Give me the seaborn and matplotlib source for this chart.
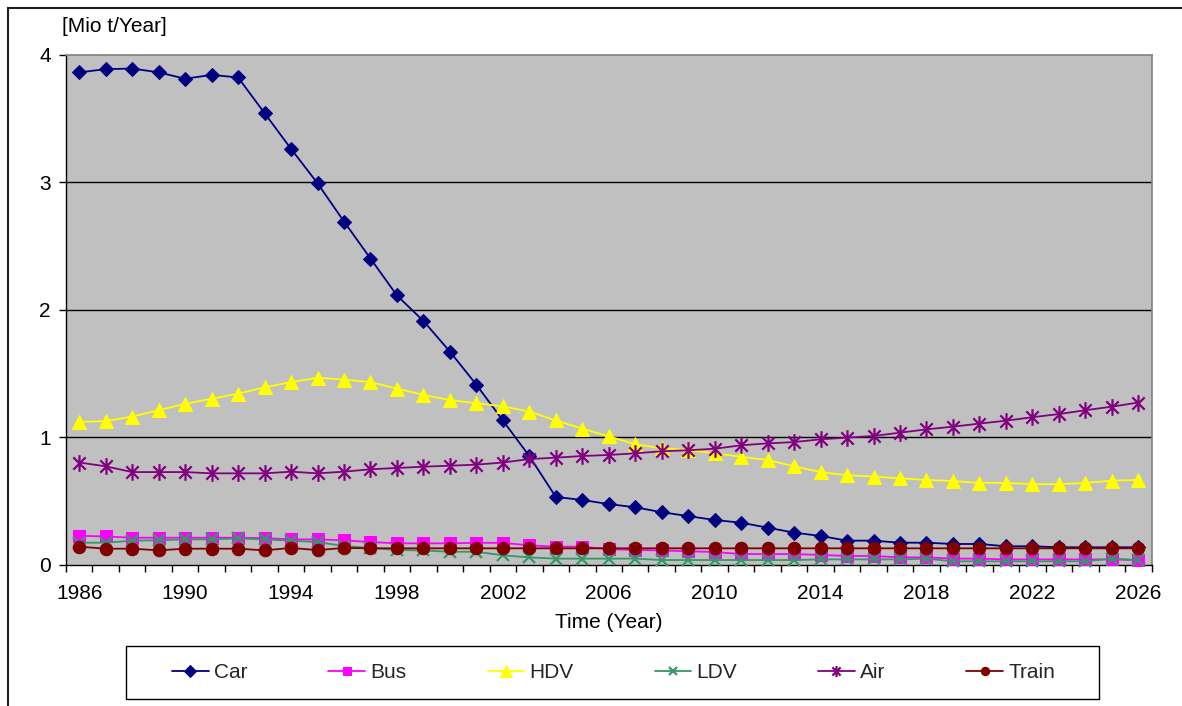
import numpy as np
import pandas as pd
import matplotlib
matplotlib.use("Agg")
import matplotlib.pyplot as plt
from matplotlib.path import Path
from matplotlib.patches import Rectangle
from matplotlib.ticker import FixedLocator
import seaborn as sns

# ---- data -------------------------------------------------------------
years = list(range(1986, 2027))

car = [3.86, 3.885, 3.89, 3.86, 3.81, 3.84, 3.82, 3.54, 3.26, 2.99, 2.69,
       2.40, 2.11, 1.91, 1.67, 1.41, 1.13, 0.85, 0.53, 0.506, 0.474,
       0.449, 0.41, 0.38, 0.349, 0.328, 0.289, 0.25, 0.224, 0.187, 0.187,
       0.171, 0.171, 0.161, 0.161, 0.143, 0.143, 0.135, 0.135, 0.135, 0.135]
bus = [0.225, 0.22, 0.21, 0.21, 0.21, 0.21, 0.21, 0.207, 0.197, 0.197, 0.19,
       0.176, 0.166, 0.166, 0.166, 0.17, 0.17, 0.15, 0.14, 0.14, 0.12,
       0.114, 0.11, 0.104, 0.098, 0.082, 0.082, 0.082, 0.075, 0.067, 0.067,
       0.056, 0.056, 0.046, 0.046, 0.04, 0.04, 0.04, 0.04, 0.04, 0.035]
hdv = [1.118, 1.125, 1.16, 1.21, 1.26, 1.30, 1.34, 1.39, 1.43, 1.465, 1.45,
       1.43, 1.38, 1.33, 1.29, 1.265, 1.24, 1.20, 1.13, 1.065, 1.005,
       0.945, 0.91, 0.898, 0.872, 0.845, 0.82, 0.77, 0.725, 0.70, 0.69,
       0.676, 0.663, 0.655, 0.64, 0.64, 0.63, 0.63, 0.64, 0.657, 0.663]
ldv = [0.171, 0.171, 0.187, 0.19, 0.197, 0.197, 0.205, 0.197, 0.187, 0.176, 0.145,
       0.13, 0.114, 0.11, 0.10, 0.10, 0.072, 0.056, 0.046, 0.046, 0.046,
       0.046, 0.035, 0.035, 0.035, 0.035, 0.035, 0.035, 0.04, 0.04, 0.04,
       0.04, 0.046, 0.025, 0.025, 0.025, 0.025, 0.025, 0.025, 0.046, 0.035]
air = [0.80, 0.77, 0.725, 0.725, 0.725, 0.715, 0.715, 0.715, 0.728, 0.715, 0.728,
       0.747, 0.757, 0.767, 0.775, 0.783, 0.80, 0.827, 0.838, 0.851, 0.859,
       0.872, 0.888, 0.896, 0.908, 0.935, 0.95, 0.96, 0.982, 0.995, 1.008,
       1.034, 1.06, 1.081, 1.105, 1.128, 1.155, 1.18, 1.21, 1.238, 1.27]
train = [0.14, 0.124, 0.124, 0.111, 0.124, 0.124, 0.124, 0.111, 0.13, 0.113, 0.13,
         0.127, 0.127, 0.127, 0.127, 0.127, 0.127, 0.127, 0.127, 0.127, 0.127,
         0.127, 0.127, 0.127, 0.127, 0.127, 0.127, 0.127, 0.127, 0.127, 0.127,
         0.127, 0.127, 0.127, 0.127, 0.127, 0.127, 0.127, 0.127, 0.127, 0.127]

series_names = ["Car", "Bus", "HDV", "LDV", "Air", "Train"]
series_values = [car, bus, hdv, ldv, air, train]

df = pd.DataFrame({"Year": years})
for name, vals in zip(series_names, series_values):
    df[name] = vals

# ---- styling ----------------------------------------------------------
sns.set_theme(style="white")
plt.rcParams["font.family"] = ["Liberation Sans", "DejaVu Sans"]

# asterisk marker: an X crossed with a vertical bar
star_path = Path(
    [(-1, -1), (1, 1), (-1, 1), (1, -1), (0, -1.35), (0, 1.35)],
    [Path.MOVETO, Path.LINETO, Path.MOVETO, Path.LINETO, Path.MOVETO, Path.LINETO],
)

styles = {
    "Car":   dict(color="#000080", marker="D", markersize=7, mfc="#000080", mec="#000080"),
    "Bus":   dict(color="#FF00FF", marker="s", markersize=8, mfc="#FF00FF", mec="#FF00FF"),
    "HDV":   dict(color="#FFFF00", marker="^", markersize=10, mfc="#FFFF00", mec="#FFFF00"),
    "LDV":   dict(color="#339966", marker="x", markersize=9, mew=1.6, mec="#339966"),
    "Air":   dict(color="#800080", marker=star_path, markersize=12, mew=1.6, mec="#800080"),
    "Train": dict(color="#800000", marker="o", markersize=9, mfc="#800000", mec="#800000"),
}
legend_marker_sizes = {"Car": 6, "Bus": 6, "HDV": 8, "LDV": 6, "Air": 8, "Train": 6}

fig = plt.figure(figsize=(11.82, 7.06), dpi=100)
ax = fig.add_axes([0.05584, 0.20042, 0.91836, 0.72238])
ax.set_facecolor("#C0C0C0")

for name in series_names:
    st = dict(styles[name])
    sns.lineplot(data=df, x="Year", y=name, ax=ax, label=name,
                 linewidth=1.3, zorder=3, clip_on=False, **st)

# axes ranges and ticks
ax.set_xlim(1985.5, 2026.5)
ax.set_ylim(0, 4)
ax.set_yticks([0, 1, 2, 3, 4])
ax.set_yticklabels(["0", "1", "2", "3", "4"])
label_years = years[::4]
ax.set_xticks(label_years)
ax.set_xticklabels([str(y) for y in label_years])
ax.xaxis.set_minor_locator(FixedLocator([y - 0.5 for y in years] + [2026.5]))
ax.tick_params(axis="x", which="major", length=0, pad=14, labelsize=15, colors="black")
ax.tick_params(axis="x", which="minor", length=5, width=1, color="black", direction="out", bottom=True)
ax.tick_params(axis="y", which="major", length=5, width=1, color="black", direction="out",
               left=True, pad=6, labelsize=15, labelcolor="black")

# horizontal gridlines
for gy in [1, 2, 3]:
    ax.axhline(gy, color="black", linewidth=1, zorder=1)

for side in ["left", "bottom"]:
    ax.spines[side].set_color("black")
    ax.spines[side].set_linewidth(1)
for side in ["top", "right"]:
    ax.spines[side].set_color("#808080")
    ax.spines[side].set_linewidth(1.2)

ax.set_xlabel("Time (Year)", fontsize=15, labelpad=7, color="black")
ax.set_ylabel("")
fig.text(62 / 1182, 1 - 26 / 706, "[Mio t/Year]", fontsize=15, ha="left", va="center", color="black")

# legend in a framed box below the plot
ax.get_legend().remove()
handles, labels = ax.get_legend_handles_labels()
lx0, lx1 = 126 / 1182, 1099 / 1182
ly0, ly1 = 1 - 699 / 706, 1 - 646 / 706
fig.patches.append(Rectangle((lx0, ly0), lx1 - lx0, ly1 - ly0, transform=fig.transFigure,
                             facecolor="white", edgecolor="black", linewidth=1.0))
leg = fig.legend(handles, labels, loc="center", ncol=6,
                 bbox_to_anchor=((lx0 + lx1) / 2 + 1 / 1182, (ly0 + ly1) / 2),
                 bbox_transform=fig.transFigure,
                 frameon=False, fontsize=15,
                 handlelength=1.75, handletextpad=0.25, borderaxespad=0.0,
                 borderpad=0.0, columnspacing=3.9)
for h, name in zip(leg.legend_handles, labels):
    h.set_markersize(legend_marker_sizes[name])

# outer chart border
fig.patches.append(Rectangle((8 / 1182, -0.05), 1.1, 1 - 8 / 706 + 0.05,
                             transform=fig.transFigure, fill=False,
                             edgecolor="#202020", linewidth=1.5))

fig.savefig("out.png", dpi=100)
